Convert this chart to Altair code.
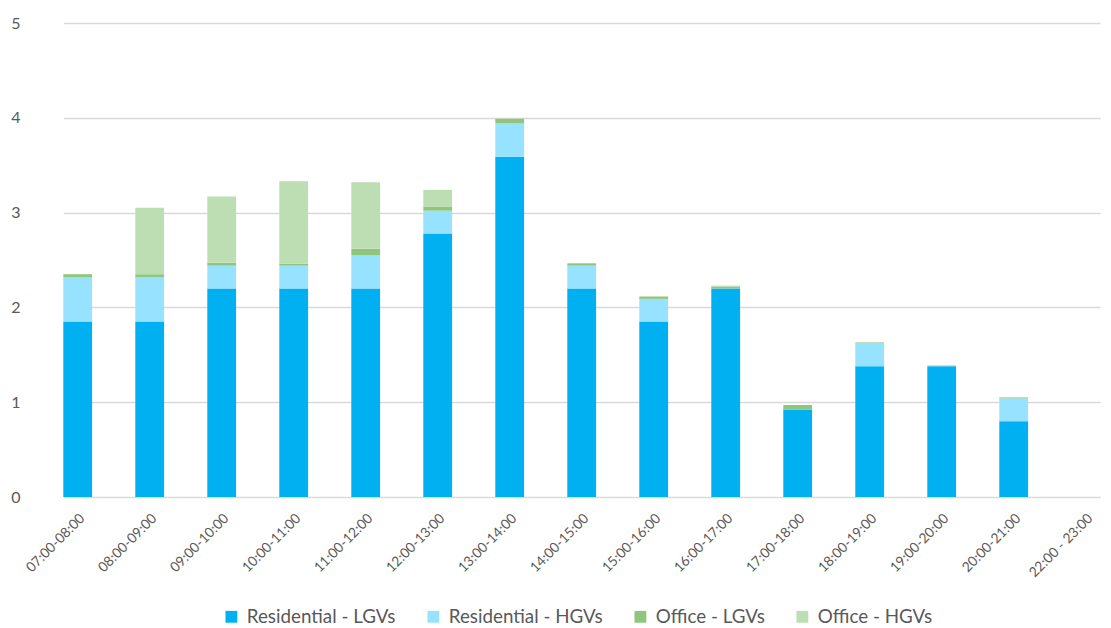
import altair as alt
import pandas as pd

categories = ["07:00-08:00", "08:00-09:00", "09:00-10:00", "10:00-11:00", "11:00-12:00",
              "12:00-13:00", "13:00-14:00", "14:00-15:00", "15:00-16:00", "16:00-17:00",
              "17:00-18:00", "18:00-19:00", "19:00-20:00", "20:00-21:00", "22:00 - 23:00"]
series = ["Residential - LGVs", "Residential - HGVs", "Office - LGVs", "Office - HGVs"]
colors = ["#00B0F0", "#97E2FF", "#8FC67C", "#BDDDB2"]

res_lgv = [1.85, 1.85, 2.2, 2.2, 2.2, 2.78, 3.59, 2.2, 1.85, 2.2, 0.92, 1.38, 1.38, 0.80, 0]
res_hgv = [0.47, 0.47, 0.24, 0.24, 0.35, 0.24, 0.35, 0.24, 0.24, 0, 0, 0.24, 0, 0.24, 0]
off_lgv = [0.03, 0.03, 0.03, 0.02, 0.07, 0.04, 0.05, 0.025, 0.025, 0.02, 0.05, 0.01, 0.0, 0.01, 0]
off_hgv = [0, 0.70, 0.70, 0.87, 0.70, 0.18, 0, 0, 0, 0.01, 0, 0.005, 0.01, 0.005, 0]

rows = []
for si, (name, vals) in enumerate(zip(series, [res_lgv, res_hgv, off_lgv, off_hgv])):
    for c, v in zip(categories, vals):
        rows.append({"slot": c, "series": name, "value": v, "ord": si})
df = pd.DataFrame(rows)

FONT = "Lato"
GREY = "#595959"

chart = alt.Chart(df).mark_bar().encode(
    x=alt.X("slot:N", sort=categories,
            scale=alt.Scale(paddingInner=0.6, paddingOuter=0, range=[21.3, 1058.1]),
            axis=alt.Axis(title=None, labelAngle=-45, labelFontSize=13.8, labelColor=GREY,
                          labelFont=FONT, ticks=False, domain=False, labelPadding=14)),
    y=alt.Y("value:Q", stack="zero",
            scale=alt.Scale(domain=[0, 5], nice=False),
            axis=alt.Axis(title=None, values=[0, 1, 2, 3, 4, 5], labelFontSize=16,
                          labelColor=GREY, labelFont=FONT, ticks=False, domain=False,
                          gridColor="#D9D9D9", gridWidth=1.5, labelPadding=22)),
    color=alt.Color("series:N", sort=series,
                    scale=alt.Scale(domain=series, range=colors),
                    legend=alt.Legend(title=None, orient="none", direction="horizontal",
                                      legendX=180, legendY=584, symbolType="square",
                                      symbolSize=140, symbolStrokeWidth=0,
                                      labelFontSize=18.8, labelColor=GREY, labelFont=FONT,
                                      columnPadding=28, labelOffset=6)),
    order=alt.Order("ord:Q"),
).properties(
    width=1068, height=474,
    autosize=alt.AutoSizeParams(type="none"),
    padding={"left": 42, "top": 23, "right": 1, "bottom": 131},
).configure_view(stroke=None)

chart.save("out.html", embed_options={"renderer": "svg", "actions": False})
